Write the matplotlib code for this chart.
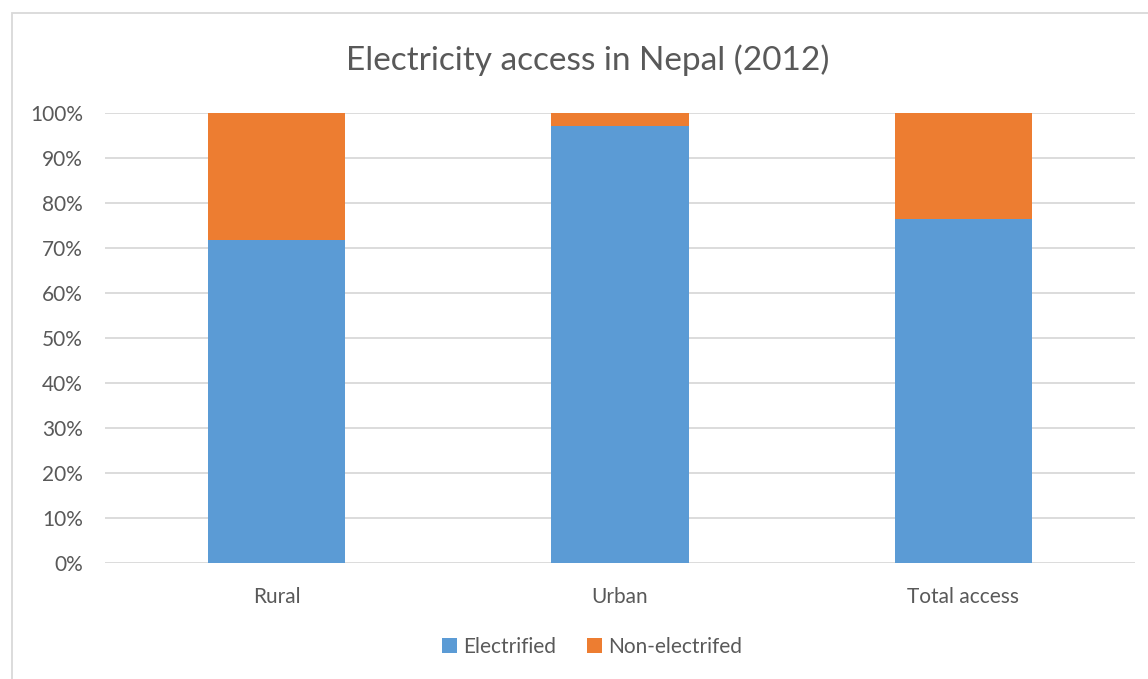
import matplotlib
matplotlib.use('Agg')
import matplotlib.pyplot as plt
from matplotlib.patches import Rectangle

categories = ['Rural', 'Urban', 'Total access']
electrified = [71.8, 97.1, 76.4]
non_electrified = [28.2, 2.9, 23.6]
yticks = [0, 10, 20, 30, 40, 50, 60, 70, 80, 90, 100]

plt.rcParams['font.family'] = ['Lato', 'DejaVu Sans']
txt = '#595959'

fig = plt.figure(figsize=(11.48, 6.79), dpi=100)
ax = fig.add_axes([105/1148, (679-563)/679, (1135-105)/1148, (563-113)/679])

x = range(len(categories))
ax.bar(x, electrified, width=0.4, color='#5b9bd5', label='Electrified', zorder=3)
ax.bar(x, non_electrified, width=0.4, bottom=electrified, color='#ed7d31',
       label='Non-electrifed', zorder=3)

ax.set_xlim(-0.5, 2.5)
ax.set_ylim(0, 100)
ax.set_yticks(yticks)
ax.set_yticklabels([f'{v}%' for v in yticks], color=txt, fontsize=15)
ax.set_xticks(list(x))
ax.set_xticklabels(categories, color=txt, fontsize=15)
ax.tick_params(length=0)
ax.tick_params(axis='y', pad=16)
ax.tick_params(axis='x', pad=17)
ax.grid(axis='y', color='#d9d9d9', linewidth=1.3, zorder=0)
for s in ax.spines.values():
    s.set_visible(False)

fig.text(588/1148, 1 - 60/679, 'Electricity access in Nepal (2012)', ha='center', va='center',
         fontsize=24, color=txt)

fig.legend(loc='center', bbox_to_anchor=(592/1148, 1 - 647/679), ncol=2, frameon=False,
           fontsize=15, labelcolor=txt, handlelength=0.7, handleheight=0.7,
           handletextpad=0.3, columnspacing=1.5)

fig.patches.append(Rectangle((12/1148, -0.1), 1.2, 1 - 13/679 + 0.1, transform=fig.transFigure,
                             fill=False, edgecolor='#d9d9d9', linewidth=1.3))

plt.savefig('out.png', dpi=100)
